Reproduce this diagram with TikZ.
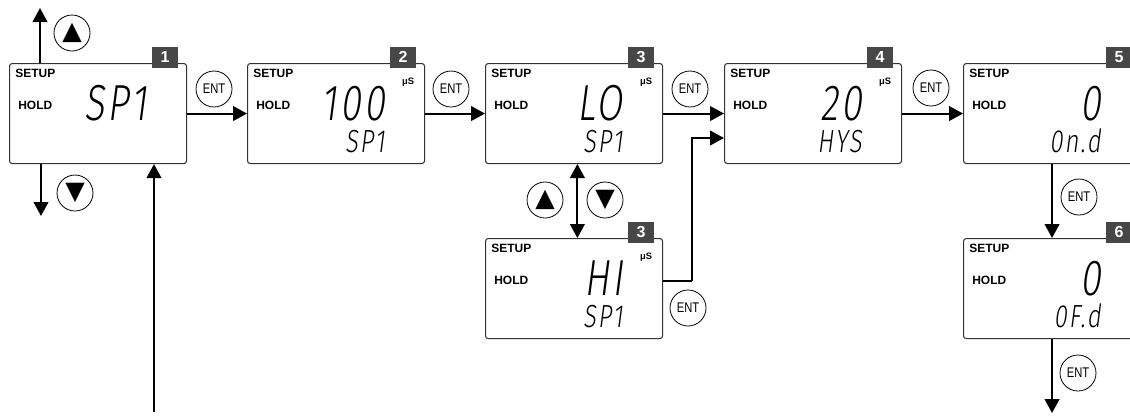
\documentclass[tikz,border=0pt]{standalone}
\usepackage{fontspec}
\setmainfont{Liberation Sans}
\newfontfamily\segfont{Fira Sans Light}[FakeStretch=0.74,FakeSlant=0.13,LetterSpace=6]
\newfontfamily\keyfont{Liberation Sans}[FakeStretch=0.8]
\newfontfamily\symfont{DejaVu Sans}
\usetikzlibrary{arrows.meta}

\newcommand{\lcdw}{132.75pt}
\newcommand{\lcdh}{75pt}
\newcommand{\keyd}{27pt}

\tikzset{
    lcd/.style={rectangle, rounded corners=2pt, draw=black!80, line width=0.8pt, minimum width=\lcdw, minimum height=\lcdh, anchor=north west, inner sep=0pt},
    badge/.style={rectangle, fill=black!72, text=white, font=\fontsize{12}{12}\selectfont\bfseries, minimum width=19.5pt, minimum height=15.75pt, inner sep=0pt},
    tag/.style={font=\fontsize{9}{10}\selectfont\bfseries, inner sep=0pt, anchor=west},
    unitlabel/.style={font=\fontsize{7}{8}\selectfont\bfseries, inner sep=0pt},
    bigseg/.style={font=\fontsize{38}{38}\segfont, inner sep=0pt, anchor=base east},
    smallseg/.style={font=\fontsize{24}{24}\segfont, inner sep=0pt, anchor=base east},
    key/.style={circle, draw, line width=0.6pt, minimum size=\keyd, inner sep=0pt, font=\fontsize{10.5}{10.5}\keyfont},
    arrowkey/.style={key, font=\fontsize{19}{19}\symfont},
    flow/.style={line width=1.5pt, -{Triangle[length=10.5pt,width=11pt]}},
}

\begin{document}
\begin{tikzpicture}[x=0.75pt, y=-0.75pt]
    \useasboundingbox (0,0) rectangle (1130,415);

    % displays
    \foreach \n/\x/\y/\tagno/\disp/\sub/\unitname in {b1/9/63/1/SP1//, b2/247/63/2/100/SP1/μS, b3/485/63/3/LO/SP1/μS, b4/724/63/4/20/HYS/μS, b5/963/63/5/0/0n.d/, b3h/485/238/3/HI/SP1/μS, b6/963/238/6/0/0F.d/} {
        \node[lcd] (\n) at (\x,\y) {};
        \node[tag] (\n-setup) at ([shift={(6,10)}]\n.north west) {SETUP};
        \node[tag] (\n-hold) at ([shift={(9,42)}]\n.north west) {HOLD};
        \node[unitlabel] (\n-unit) at ([shift={(161,19)}]\n.north west) {\unitname};
        \node[badge] (\n-no) at ([shift={(156,-6)}]\n.north west) {\tagno};
        \node[bigseg] (\n-big) at ([shift={(138,57)}]\n.north west) {\disp};
        \node[smallseg] (\n-small) at ([shift={(138,89)}]\n.north west) {\sub};
    }

    % keys
    \node[arrowkey] (up1) at (72,33) {▲};
    \node[arrowkey] (dn1) at (75,193) {▼};
    \node[arrowkey] (up3) at (545,200) {▲};
    \node[arrowkey] (dn3) at (605,200) {▼};
    \node[key] (e12) at (214,89) {ENT};
    \node[key] (e23) at (451,89) {ENT};
    \node[key] (e34) at (690,89) {ENT};
    \node[key] (e45) at (931,88) {ENT};
    \node[key] (e3h) at (688,308) {ENT};
    \node[key] (e56) at (1079,197) {ENT};
    \node[key] (e6x) at (1078,373) {ENT};

    % free ends
    \coordinate (top1) at (40,8);
    \coordinate (bot1) at (41,216);
    \coordinate (back1) at (154,412);
    \coordinate (hiout) at (b3h.east |- 0,281);
    \coordinate (hyin) at (b4.west |- 0,138);
    \coordinate (out6) at (b6.south |- 0,413);

    % connectors
    \draw[flow] (top1 |- b1.north) -- (top1);
    \draw[flow] (bot1 |- b1.south) -- (bot1);
    \draw[flow] (back1) -- (back1 |- b1.south);
    \draw[flow] (b1.east) -- (b2.west);
    \draw[flow] (b2.east) -- (b3.west);
    \draw[flow] (b3.east) -- (b4.west);
    \draw[flow] (b4.east) -- (b5.west);
    \draw[flow, {Triangle[length=10.5pt,width=11pt]}-{Triangle[length=10.5pt,width=11pt]}] ([xshift=2.5pt]b3.south) -- ([xshift=2.5pt]b3h.north);
    \draw[line width=1.5pt] (hiout) -- ++(29,0) coordinate (hibend);
    \draw[flow] (hibend) |- (hyin);
    \draw[flow] (b5.south) -- (b6.north);
    \draw[flow] (b6.south) -- (out6);
\end{tikzpicture}
\end{document}
